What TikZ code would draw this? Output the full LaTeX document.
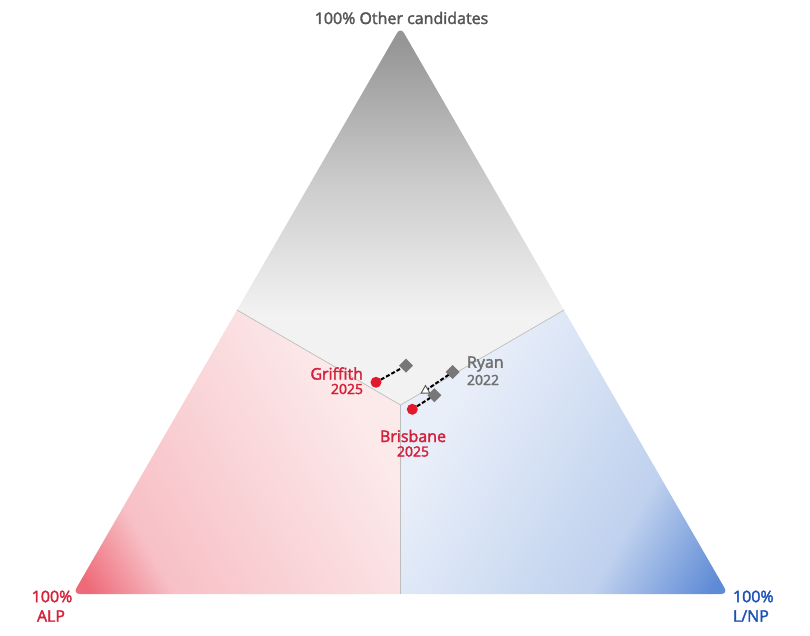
\documentclass[tikz,border=0pt]{standalone}
\usepackage{fontspec}
\setmainfont{Open Sans}
\newcommand\heavytext[1]{\special{pdf:code q 2 Tr 0.35 w}#1\special{pdf:code Q}}
\definecolor{rA}{HTML}{EE6A78}\definecolor{rB}{HTML}{F7C0C6}\definecolor{rC}{HTML}{FCE9EA}
\definecolor{bA}{HTML}{5F8BD6}\definecolor{bB}{HTML}{BFD1EE}\definecolor{bC}{HTML}{E9EFF9}
\definecolor{gA}{HTML}{969696}\definecolor{gB}{HTML}{CDCDCD}\definecolor{gC}{HTML}{F2F2F2}
\definecolor{redmark}{HTML}{E2182D}\definecolor{redtext}{HTML}{D5203A}
\definecolor{bluetext}{HTML}{1A50B5}\definecolor{greymark}{HTML}{777777}\definecolor{greytext}{HTML}{6F6F6F}
\definecolor{toptext}{HTML}{555555}\definecolor{rule}{HTML}{BDBDBD}
\pgfdeclarehorizontalshading{redgrad}{100bp}{color(0bp)=(rA);color(50bp)=(rA);color(51bp)=(rA);color(55.5bp)=(rB);color(71bp)=(rC);color(100bp)=(rC)}
\pgfdeclarehorizontalshading{bluegrad}{100bp}{color(0bp)=(bA);color(50bp)=(bA);color(51bp)=(bA);color(57.5bp)=(bB);color(71bp)=(bC);color(100bp)=(bC)}
\pgfdeclarehorizontalshading{greygrad}{100bp}{color(0bp)=(gA);color(50bp)=(gA);color(51bp)=(gA);color(60bp)=(gB);color(68bp)=(gC);color(100bp)=(gC)}
\usetikzlibrary{shapes.geometric}
\tikzset{
  every node/.style={inner sep=0pt,outer sep=0pt},
  divider/.style={draw=rule,line width=0.7pt},
  dashlink/.style={draw=black,line width=2pt,dash pattern=on 4pt off 2pt},
  dia/.style={fill=greymark,shape=diamond,minimum size=14pt},
  dot/.style={circle,fill=redmark,minimum size=11pt},
  trimark/.style={draw=toptext,fill=white,line width=0.9pt,line join=miter},
  lab/.style={font=\fontsize{16}{18}\selectfont},
  yr/.style={font=\fontsize{14}{16}\selectfont},
}
\begin{document}
\begin{tikzpicture}[x=1pt,y=-1pt]
\useasboundingbox (0,0) rectangle (810,636);
\coordinate (L) at (73,594);
\coordinate (R) at (728,594);
\coordinate (T) at (400.5,27);
\coordinate (C) at (400.5,405);
\coordinate (ML) at (237,310);
\coordinate (MR) at (564,310);
\coordinate (MB) at (400.5,594);
\begin{scope}
\clip[rounded corners=7pt] (L) -- (T) -- (R) -- cycle;
\begin{scope}\clip (L) -- (ML) -- (C) -- (MB) -- cycle;
\shade[shading=redgrad,shading angle=30] (-327,194) rectangle (473,994);
\end{scope}
\begin{scope}\clip (R) -- (MR) -- (C) -- (MB) -- cycle;
\shade[shading=bluegrad,shading angle=150] (328,194) rectangle (1128,994);
\end{scope}
\begin{scope}\clip (T) -- (ML) -- (C) -- (MR) -- cycle;
\shade[shading=greygrad,shading angle=-90] (0.5,-373) rectangle (800.5,427);
\end{scope}
\end{scope}
\draw[divider] (ML) -- (C) -- (MR);
\draw[divider] (C) -- (MB);
\coordinate (rt) at (425.5,390.5);
\node[dia] (gd) at (406,365.7) {};
\node[dot] (gc) at (376,382.3) {};
\node[dia] (rd) at (452.7,372) {};
\node[dot] (bc) at (412.3,409.3) {};
\draw[dashlink] (gc) -- (gd);
\draw[dashlink] (rt) -- (rd);
\draw[trimark] (rt) ++(0,-5) -- ++(4.3,7.6) -- ++(-8.6,0) -- cycle;
\node[dia] (bd) at (434.3,395.3) {};
\draw[dashlink] (bc) -- (bd);
\node[lab,text=redtext,anchor=east] (n1) at (363,373.5) {\heavytext{Griffith}};
\node[yr,text=redtext,anchor=east] (n2) at (363,389) {\heavytext{2025}};
\node[lab,text=redtext] (n3) at (413,436) {\heavytext{Brisbane}};
\node[yr,text=redtext] (n4) at (413,451.5) {\heavytext{2025}};
\node[lab,text=greytext,anchor=west] (n5) at (467,364) {\heavytext{Ryan}};
\node[yr,text=greytext,anchor=west] (n6) at (467,380) {\heavytext{2022}};
\node[lab,text=toptext] (n7) at (401.5,18) {\heavytext{100\% Other candidates}};
\node[lab,text=redtext] (n8) at (52,596.5) {\heavytext{100\%}};
\node[lab,text=redtext] (n9) at (51,616) {\heavytext{ALP}};
\node[lab,text=bluetext,anchor=west] (n10) at (733,596.5) {\heavytext{100\%}};
\node[lab,text=bluetext,anchor=west] (n11) at (733,616) {\heavytext{L/NP}};
\end{tikzpicture}
\end{document}
